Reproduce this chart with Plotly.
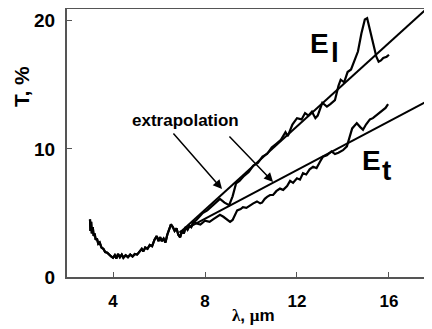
import plotly.graph_objects as go

# shared short-wavelength part (both curves coincide)
lam_common = [3.00, 3.02, 3.05, 3.08, 3.12, 3.16, 3.20, 3.25, 3.30, 3.36, 3.42, 3.50, 3.58, 3.66,
              3.75, 3.84, 3.92, 4.00, 4.08, 4.15, 4.22, 4.30, 4.38, 4.45, 4.55, 4.65, 4.75, 4.85,
              4.95, 5.05, 5.15, 5.25, 5.32, 5.40, 5.50, 5.60, 5.70, 5.80, 5.90, 5.98, 6.05, 6.12,
              6.20, 6.28, 6.36, 6.45, 6.52, 6.60, 6.68, 6.76, 6.84, 6.92, 7.00, 7.08, 7.16, 7.24,
              7.32, 7.40, 7.50]
T_common = [4.5, 3.6, 4.3, 3.4, 3.9, 3.2, 3.4, 2.9, 3.0, 2.6, 2.7, 2.3, 2.2, 1.95,
            1.9, 1.7, 1.6, 1.5, 1.7, 1.45, 1.8, 1.55, 1.75, 1.5, 1.7, 1.55, 1.75, 1.6,
            1.8, 1.75, 2.0, 2.2, 2.0, 2.3, 2.2, 2.5, 2.4, 2.9, 3.2, 2.8, 3.1, 2.8,
            3.0, 2.7, 3.3, 3.7, 4.1, 3.9, 3.6, 3.8, 3.3, 3.1, 3.6, 3.4, 3.9, 3.7,
            4.0, 3.9, 4.3]

# E_l tail
lam_El = [7.6, 7.7, 7.9, 8.1, 8.3, 8.5, 8.65, 8.85, 9.05, 9.2, 9.35, 9.5, 9.7, 9.9, 10.1, 10.3,
          10.5, 10.7, 10.9, 11.1, 11.3, 11.5, 11.6, 11.8, 12.0, 12.2, 12.35, 12.5, 12.65, 12.8,
          12.9, 13.1, 13.3, 13.45, 13.65, 13.8, 13.9, 14.05, 14.2, 14.35, 14.5, 14.65, 14.8,
          14.95, 15.05, 15.15, 15.3, 15.45, 15.55, 15.65, 15.75, 15.9, 16.0]
T_El = [4.4, 4.6, 5.0, 5.2, 5.55, 5.9, 6.1, 5.8, 5.6, 6.3, 7.3, 7.5, 7.9, 8.2, 8.7, 8.9,
        9.4, 9.6, 10.1, 10.4, 10.7, 11.3, 11.0, 11.9, 12.4, 12.3, 12.8, 12.6, 12.9, 12.4,
        12.6, 13.6, 13.3, 13.5, 13.8, 14.9, 15.4, 15.2, 16.0, 16.2, 16.9, 17.6, 19.0,
        20.1, 20.2, 19.5, 18.3, 17.2, 16.8, 16.9, 17.1, 17.2, 17.35]

# E_t tail
lam_Et = [7.6, 7.8, 8.0, 8.2, 8.35, 8.5, 8.65, 8.8, 8.95, 9.09, 9.2, 9.3, 9.4, 9.55, 9.65, 9.8,
          9.96, 10.1, 10.26, 10.4, 10.48, 10.6, 10.7, 10.83, 10.96, 11.1, 11.26, 11.4, 11.57,
          11.7, 11.83, 12.0, 12.13, 12.26, 12.4, 12.55, 12.7, 12.85, 13.0, 13.13, 13.3, 13.5,
          13.65, 13.8, 14.0, 14.17, 14.3, 14.4, 14.5, 14.6, 14.75, 14.87, 15.0, 15.17, 15.3,
          15.48, 15.6, 15.74, 15.85, 15.96]
T_Et = [4.2, 4.1, 4.4, 4.3, 4.5, 4.7, 4.85, 4.7, 4.5, 4.3, 4.45, 4.9, 5.2, 5.3, 5.45, 5.4,
        5.6, 5.75, 5.9, 5.75, 5.8, 6.1, 6.25, 6.4, 6.4, 6.7, 6.9, 6.8, 7.1,
        7.5, 7.35, 7.7, 7.6, 8.1, 8.0, 8.4, 8.6, 8.5, 9.0, 9.4, 9.5, 9.8,
        9.6, 9.7, 9.9, 10.2, 11.0, 11.6, 11.8, 12.0, 11.7, 11.5, 11.9, 12.3, 12.4,
        12.65, 12.8, 13.05, 13.2, 13.5]

# extrapolation lines (end points)
lam_fit = [6.9, 17.8]
T_fit_El = [3.45, 21.2]
T_fit_Et = [3.5, 13.85]

x_ticks = [4, 8, 12, 16]
y_ticks = [0, 10, 20]

BOLD = "Liberation Sans"
fig = go.Figure()
line_style = dict(color="black", width=2.2)
fig.add_trace(go.Scatter(x=lam_common + lam_El, y=T_common + T_El, mode="lines", line=line_style))
fig.add_trace(go.Scatter(x=lam_common + lam_Et, y=T_common + T_Et, mode="lines", line=line_style))
fig.add_trace(go.Scatter(x=lam_fit, y=T_fit_El, mode="lines", line=dict(color="black", width=2)))
fig.add_trace(go.Scatter(x=lam_fit, y=T_fit_Et, mode="lines", line=dict(color="black", width=2)))

ann = []
def txt(x, y, t, size, **kw):
    d = dict(x=x, y=y, text=t, showarrow=False, xanchor="center", yanchor="middle",
             font=dict(family=BOLD, size=size, color="black", weight="bold"))
    d.update(kw)
    ann.append(d)

txt(13.0, 18.2, "E", 28)
txt(13.67, 17.5, "l", 28)
txt(15.26, 9.13, "E", 28)
txt(15.91, 8.35, "t", 28)
txt(7.17, 12.22, "extrapolation", 17)
txt(-0.123, 0.709, "T, %", 21, xref="paper", yref="paper", textangle=-90)
ann.append(dict(x=0.51, y=-0.1455, xref="paper", yref="paper", showarrow=False,
                xanchor="center", yanchor="middle",
                text="<span style='font-family:Liberation Serif'>λ</span>, "
                     "<span style='font-family:Liberation Serif'>μ</span>m",
                font=dict(family=BOLD, size=17, color="black", weight="bold")))
# arrows
for (x0, y0, x1, y1) in [(6.57, 11.32, 8.74, 6.87), (9.0, 11.09, 10.96, 7.42)]:
    ann.append(dict(x=x1, y=y1, ax=x0, ay=y0, xref="x", yref="y", axref="x", ayref="y",
                    text="", showarrow=True, arrowhead=2, arrowsize=1.2, arrowwidth=1.5,
                    arrowcolor="black"))

axis_common = dict(showgrid=False, zeroline=False, showline=True, linecolor="#555",
                   linewidth=2, ticks="inside", ticklen=5, tickwidth=1, tickcolor="#555",
                   automargin=False)
fig.update_layout(
    width=424, height=321,
    margin=dict(l=59, r=0, t=1, b=52, autoexpand=False),
    paper_bgcolor="white", plot_bgcolor="white",
    showlegend=False,
    annotations=ann,
    xaxis=dict(range=[2, 17.87], tickvals=x_ticks, mirror=True, ticklabelstandoff=8,
               tickfont=dict(family=BOLD, size=17, color="black", weight="bold"), **axis_common),
    yaxis=dict(range=[0, 20.92], tickvals=y_ticks, ticklabelstandoff=6,
               tickfont=dict(family=BOLD, size=19, color="black", weight="bold"), **axis_common),
)
fig.write_html("out.html")
